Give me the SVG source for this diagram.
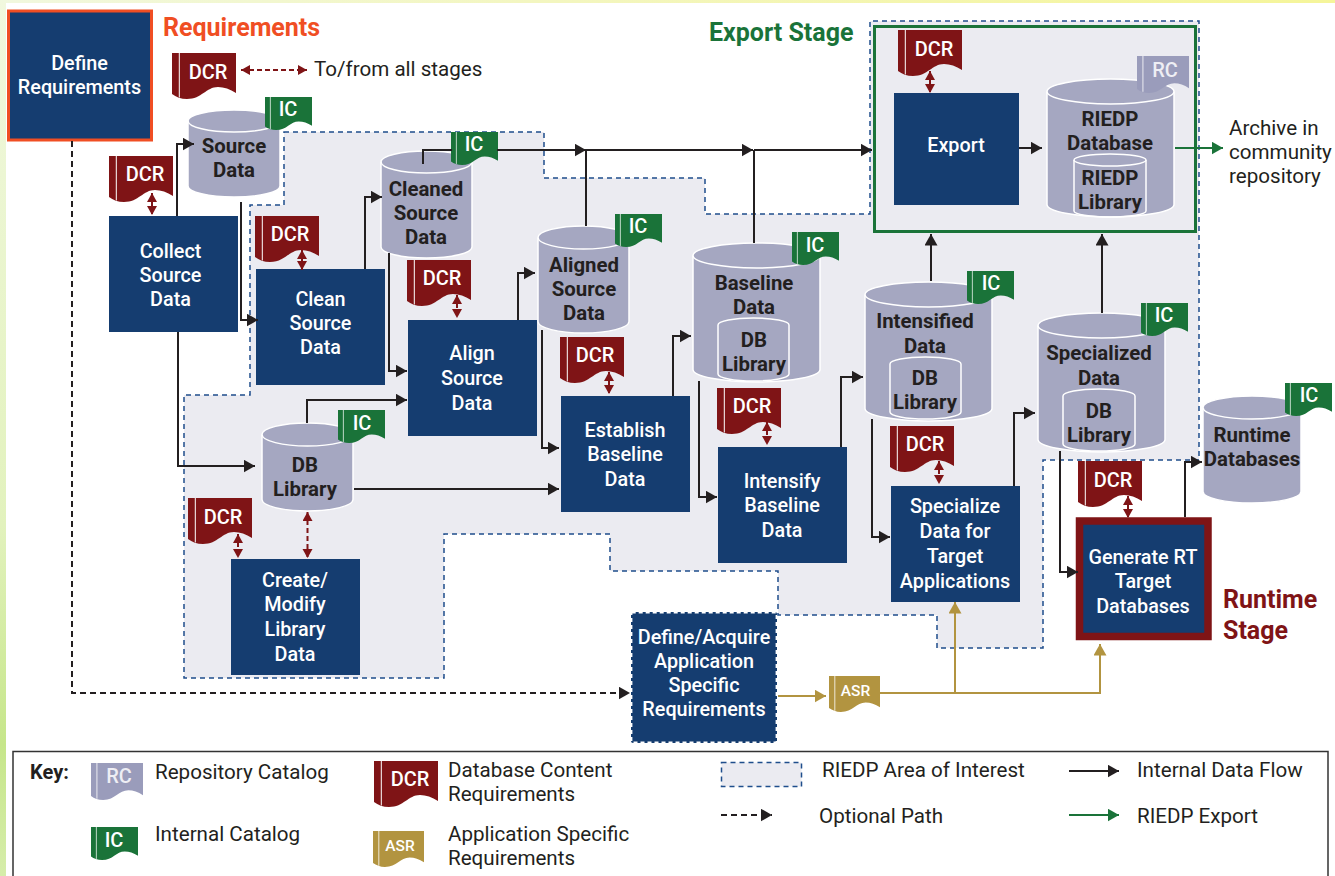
<svg xmlns="http://www.w3.org/2000/svg" width="1335" height="876" viewBox="0 0 1335 876">
<style>
text{font-family:Roboto,"Liberation Sans",sans-serif;fill:#231f20}
.w{fill:#fff;font-size:19.8px;font-weight:500;text-anchor:middle}
.d{font-size:20.4px;font-weight:700;text-anchor:middle}
.l{font-size:20.6px;font-weight:400}
.h{font-size:25px;font-weight:700}
.box{fill:#153d70}
.cyl{fill:#a5a7c1;stroke:#fff;stroke-width:1.5}
.rim{fill:none;stroke:#fff;stroke-width:1.5}
.dcr{fill:#7f1416}.ic{fill:#1a7339}.rc{fill:#9a9cbb}.asr{fill:#b29440}
.tt{fill:#fff;font-size:20px;font-weight:500;text-anchor:middle}
.rt{fill:#eeeef4}
.at{fill:#fff;font-size:15.5px;font-weight:500;text-anchor:middle}
.k{fill:none;stroke:#231f20;stroke-width:2}
.o{fill:none;stroke:#231f20;stroke-width:2;stroke-dasharray:6 4}
.g{fill:none;stroke:#1a7339;stroke-width:2}
.a{fill:none;stroke:#b29440;stroke-width:2}
.r{fill:none;stroke:#7f1416;stroke-width:2;stroke-dasharray:5 3}
.area{fill:#ebebf1;stroke:#1f4e8c;stroke-width:1.5;stroke-dasharray:5 4}
</style>
<defs>
<linearGradient id="lg" x1="0" y1="0" x2="0" y2="1"><stop offset="0" stop-color="#f1f8de"/><stop offset=".6" stop-color="#e2f2bd"/><stop offset=".85" stop-color="#c6e68a"/><stop offset="1" stop-color="#d6edaa"/></linearGradient>
<linearGradient id="tg" x1="0" y1="0" x2="1" y2="0"><stop offset="0" stop-color="#f1f8de"/><stop offset=".4" stop-color="#f3f6c0"/><stop offset="1" stop-color="#f5f59a"/></linearGradient>
<symbol id="tag" viewBox="0 0 64 46" preserveAspectRatio="none"><path d="M0,0H64V40C58,36 52,34 46,34C34,34 30,46 15,46C9,46 4,44 0,41Z"/><path d="M7.3,0V44.5" stroke="#fff" stroke-width="1" fill="none"/></symbol>
<marker id="mk" markerUnits="userSpaceOnUse" markerWidth="12" markerHeight="14" refX="11.5" refY="6.5" orient="auto"><path d="M0,0L11.5,6.5L0,13Z" fill="#231f20"/></marker>
<marker id="mg" markerUnits="userSpaceOnUse" markerWidth="12" markerHeight="14" refX="11.5" refY="6.5" orient="auto"><path d="M0,0L11.5,6.5L0,13Z" fill="#1a7339"/></marker>
<marker id="ma" markerUnits="userSpaceOnUse" markerWidth="12" markerHeight="14" refX="11.5" refY="6.5" orient="auto"><path d="M0,0L11.5,6.5L0,13Z" fill="#b29440"/></marker>
<marker id="mr" markerUnits="userSpaceOnUse" markerWidth="10" markerHeight="11" refX="9" refY="5" orient="auto-start-reverse"><path d="M0,0L9,5L0,10Z" fill="#7f1416"/></marker>
</defs>
<rect width="1335" height="876" fill="#fff"/>
<rect width="1335" height="3" fill="url(#tg)"/>
<rect width="6" height="876" fill="url(#lg)"/>

<g id="area"><path class="area" d="M284,132H544V178H705V214H870V21H1199V460H1043V648H937V615H778V571H610V534H444V678H184V395H250V205H284Z"/></g>

<g id="export-stage"><rect x="874.5" y="26.5" width="321" height="205" fill="#ebebf1" stroke="#1a7339" stroke-width="3"/><text class="h" x="709" y="41" style="fill:#1a7339">Export Stage</text></g>
<g id="requirements-label"><text class="h" x="163" y="36" style="fill:#f04e23">Requirements</text></g>
<g id="runtime-label"><text class="h" x="1223" y="608" style="fill:#7f1416">Runtime</text><text class="h" x="1223" y="639" style="fill:#7f1416">Stage</text></g>

<g id="define-req"><rect class="box" x="8.5" y="11" width="143" height="129" stroke="#f04e23" stroke-width="3"/><text class="w" x="79.5" y="70">Define</text><text class="w" x="79.5" y="94">Requirements</text></g>
<g id="collect"><rect class="box" x="109" y="216" width="129" height="116"/><text class="w" x="170.5" y="258">Collect</text><text class="w" x="170.5" y="282">Source</text><text class="w" x="170.5" y="306">Data</text></g>
<g id="clean"><rect class="box" x="256" y="269" width="129" height="116"/><text class="w" x="320.5" y="306">Clean</text><text class="w" x="320.5" y="330">Source</text><text class="w" x="320.5" y="354">Data</text></g>
<g id="align"><rect class="box" x="408" y="320" width="129" height="116"/><text class="w" x="472" y="360">Align</text><text class="w" x="472" y="385">Source</text><text class="w" x="472" y="410">Data</text></g>
<g id="establish"><rect class="box" x="561" y="396" width="129" height="116"/><text class="w" x="625" y="437">Establish</text><text class="w" x="625" y="461">Baseline</text><text class="w" x="625" y="486">Data</text></g>
<g id="intensify"><rect class="box" x="718" y="447" width="129" height="116"/><text class="w" x="782" y="488">Intensify</text><text class="w" x="782" y="512">Baseline</text><text class="w" x="782" y="537">Data</text></g>
<g id="specialize"><rect class="box" x="891" y="486" width="129" height="116"/><text class="w" x="955" y="513">Specialize</text><text class="w" x="955" y="538">Data for</text><text class="w" x="955" y="563">Target</text><text class="w" x="955" y="588">Applications</text></g>
<g id="generate"><rect class="box" x="1079.5" y="521" width="128.5" height="115.5" stroke="#7f1416" stroke-width="7.5"/><text class="w" x="1143" y="564">Generate RT</text><text class="w" x="1143" y="588">Target</text><text class="w" x="1143" y="613">Databases</text></g>
<g id="create"><rect class="box" x="231" y="559" width="129" height="116"/><text class="w" x="295" y="587">Create/</text><text class="w" x="295" y="611">Modify</text><text class="w" x="295" y="636">Library</text><text class="w" x="295" y="661">Data</text></g>
<g id="export"><rect class="box" x="894" y="93" width="125" height="112"/><text class="w" x="956" y="152">Export</text></g>
<g id="define-acquire"><rect class="box" x="631" y="612" width="146" height="131" rx="2"/><rect x="631.7" y="612.7" width="144.6" height="129.6" fill="none" stroke="#fff" stroke-width="1.4" stroke-dasharray="4 3"/><text class="w" x="704" y="644">Define/Acquire</text><text class="w" x="704" y="668">Application</text><text class="w" x="704" y="692">Specific</text><text class="w" x="704" y="716">Requirements</text></g>

<g id="source-data"><path class="cyl" d="M188,121A46,11 0 0 1 280,121V186A46,11 0 0 1 188,186Z"/><path class="rim" d="M188,121A46,11 0 0 0 280,121"/><text class="d" x="234" y="153">Source</text><text class="d" x="234" y="177">Data</text></g>
<g id="cleaned-data"><path class="cyl" d="M381,162A45.5,11 0 0 1 472,162V247A45.5,11 0 0 1 381,247Z"/><path class="rim" d="M381,162A45.5,11 0 0 0 472,162"/><text class="d" x="426" y="196">Cleaned</text><text class="d" x="426" y="220">Source</text><text class="d" x="426" y="244">Data</text></g>
<g id="aligned-data"><path class="cyl" d="M538,237.5A45.5,11.5 0 0 1 629,237.5V321.5A45.5,11.5 0 0 1 538,321.5Z"/><path class="rim" d="M538,237.5A45.5,11.5 0 0 0 629,237.5"/><text class="d" x="584" y="272">Aligned</text><text class="d" x="584" y="296">Source</text><text class="d" x="584" y="320">Data</text></g>
<g id="db-library"><path class="cyl" d="M262,434.5A45.5,11.5 0 0 1 353,434.5V499.5A45.5,11.5 0 0 1 262,499.5Z"/><path class="rim" d="M262,434.5A45.5,11.5 0 0 0 353,434.5"/><text class="d" x="305" y="472">DB</text><text class="d" x="305" y="496">Library</text></g>
<g id="baseline-data"><path class="cyl" d="M693,255.5A63.5,12.5 0 0 1 820,255.5V369.5A63.5,12.5 0 0 1 693,369.5Z"/><path class="rim" d="M693,255.5A63.5,12.5 0 0 0 820,255.5"/><path class="rim" d="M718,325A35.5,7 0 0 1 789,325V374A35.5,7 0 0 1 718,374Z"/><text class="d" x="754" y="290">Baseline</text><text class="d" x="754" y="314">Data</text><text class="d" x="754" y="347">DB</text><text class="d" x="754" y="371">Library</text></g>
<g id="intensified-data"><path class="cyl" d="M865,294.5A63.5,12.5 0 0 1 992,294.5V408.5A63.5,12.5 0 0 1 865,408.5Z"/><path class="rim" d="M865,294.5A63.5,12.5 0 0 0 992,294.5"/><path class="rim" d="M890,364A35.5,7 0 0 1 961,364V412A35.5,7 0 0 1 890,412Z"/><text class="d" x="925" y="328">Intensified</text><text class="d" x="925" y="353">Data</text><text class="d" x="925" y="385">DB</text><text class="d" x="925" y="409">Library</text></g>
<g id="specialized-data"><path class="cyl" d="M1038,325.5A63.5,12.5 0 0 1 1165,325.5V439.5A63.5,12.5 0 0 1 1038,439.5Z"/><path class="rim" d="M1038,325.5A63.5,12.5 0 0 0 1165,325.5"/><path class="rim" d="M1063,396A36,7 0 0 1 1135,396V444A36,7 0 0 1 1063,444Z"/><text class="d" x="1099" y="360">Specialized</text><text class="d" x="1099" y="385">Data</text><text class="d" x="1099" y="418">DB</text><text class="d" x="1099" y="442">Library</text></g>
<g id="runtime-db"><path class="cyl" d="M1203,407.5A49,11.5 0 0 1 1301,407.5V491.5A49,11.5 0 0 1 1203,491.5Z"/><path class="rim" d="M1203,407.5A49,11.5 0 0 0 1301,407.5"/><text class="d" x="1252" y="442">Runtime</text><text class="d" x="1252" y="466">Databases</text></g>
<g id="riedp-db"><path class="cyl" d="M1047,91.5A63.5,12.5 0 0 1 1174,91.5V204.5A63.5,12.5 0 0 1 1047,204.5Z"/><path class="rim" d="M1047,91.5A63.5,12.5 0 0 0 1174,91.5"/><path class="rim" d="M1074,160A36,6 0 0 1 1146,160V211A36,6 0 0 1 1074,211Z"/><path class="rim" d="M1074,160A36,6 0 0 0 1146,160"/><text class="d" x="1110" y="126">RIEDP</text><text class="d" x="1110" y="150">Database</text><text class="d" x="1110" y="185">RIEDP</text><text class="d" x="1110" y="209">Library</text></g>

<g id="tag-dcr-1" class="dcr"><use href="#tag" x="172" y="53" width="64" height="46"/><text class="tt" x="208" y="79">DCR</text></g>
<g id="tag-dcr-2" class="dcr"><use href="#tag" x="109" y="156" width="64" height="46"/><text class="tt" x="145" y="181">DCR</text></g>
<g id="tag-dcr-3" class="dcr"><use href="#tag" x="255" y="216" width="64" height="46"/><text class="tt" x="290" y="241">DCR</text></g>
<g id="tag-dcr-4" class="dcr"><use href="#tag" x="407" y="260" width="64" height="46"/><text class="tt" x="442" y="285">DCR</text></g>
<g id="tag-dcr-5" class="dcr"><use href="#tag" x="560" y="337" width="64" height="46"/><text class="tt" x="595" y="362">DCR</text></g>
<g id="tag-dcr-6" class="dcr"><use href="#tag" x="717" y="388" width="64" height="46"/><text class="tt" x="752" y="413">DCR</text></g>
<g id="tag-dcr-7" class="dcr"><use href="#tag" x="890" y="426" width="64" height="46"/><text class="tt" x="925" y="451">DCR</text></g>
<g id="tag-dcr-8" class="dcr"><use href="#tag" x="1078" y="461" width="64" height="46"/><text class="tt" x="1113" y="487">DCR</text></g>
<g id="tag-dcr-9" class="dcr"><use href="#tag" x="188" y="498" width="64" height="46"/><text class="tt" x="223" y="524">DCR</text></g>
<g id="tag-dcr-10" class="dcr"><use href="#tag" x="898" y="30" width="64" height="46"/><text class="tt" x="934" y="56">DCR</text></g>
<g id="tag-ic-1" class="ic"><use href="#tag" x="265" y="97" width="47" height="33"/><text class="tt" x="288" y="116">IC</text></g>
<g id="tag-ic-2" class="ic"><use href="#tag" x="451" y="132" width="47" height="33"/><text class="tt" x="474" y="151">IC</text></g>
<g id="tag-ic-3" class="ic"><use href="#tag" x="615" y="214" width="47" height="33"/><text class="tt" x="638" y="233">IC</text></g>
<g id="tag-ic-4" class="ic"><use href="#tag" x="792" y="232" width="47" height="33"/><text class="tt" x="815" y="252">IC</text></g>
<g id="tag-ic-5" class="ic"><use href="#tag" x="967" y="271" width="47" height="33"/><text class="tt" x="991" y="290">IC</text></g>
<g id="tag-ic-6" class="ic"><use href="#tag" x="1141" y="303" width="47" height="33"/><text class="tt" x="1164" y="322">IC</text></g>
<g id="tag-ic-7" class="ic"><use href="#tag" x="1285" y="383" width="47" height="33"/><text class="tt" x="1309" y="402">IC</text></g>
<g id="tag-ic-8" class="ic"><use href="#tag" x="338" y="410" width="47" height="33"/><text class="tt" x="362" y="430">IC</text></g>
<g id="tag-rc" class="rc"><use href="#tag" x="1137" y="56" width="52" height="37"/><text class="tt rt" x="1165" y="77">RC</text></g>
<g id="tag-asr" class="asr"><use href="#tag" x="829" y="676" width="51" height="36"/><text class="at" x="855.5" y="696">ASR</text></g>

<g id="connectors">
<path class="k" marker-end="url(#mk)" d="M177,216V144H194"/>
<path class="k" marker-end="url(#mk)" d="M241,202V320H258"/>
<path class="k" marker-end="url(#mk)" d="M178,332V466H255"/>
<path class="k" marker-end="url(#mk)" d="M365,269V197H382"/>
<path class="k" marker-end="url(#mk)" d="M389,253V371H407"/>
<path class="k" marker-end="url(#mk)" d="M307,423V400H407"/>
<path class="k" marker-end="url(#mk)" d="M354,489H559"/>
<path class="k" marker-end="url(#mk)" d="M518,320V273H535"/>
<path class="k" marker-end="url(#mk)" d="M542,330V448H559"/>
<path class="k" marker-end="url(#mk)" d="M673,396V336H691"/>
<path class="k" marker-end="url(#mk)" d="M699,381V497H717"/>
<path class="k" marker-end="url(#mk)" d="M841,447V377H863"/>
<path class="k" marker-end="url(#mk)" d="M872,419V537H890"/>
<path class="k" marker-end="url(#mk)" d="M1014,486V413H1035"/>
<path class="k" marker-end="url(#mk)" d="M1060,451V572H1078"/>
<path class="k" marker-end="url(#mk)" d="M1185,517V462H1202"/>
<path class="k" marker-end="url(#mk)" d="M423,164V150H452M497,150H586"/>
<path class="k" marker-end="url(#mk)" d="M586,150H753"/>
<path class="k" marker-end="url(#mk)" d="M754,150H872"/>
<path class="k" d="M586,226V150"/>
<path class="k" d="M754,243V150"/>
<path class="k" marker-end="url(#mk)" d="M931,281V234"/>
<path class="k" marker-end="url(#mk)" d="M1102,313V234"/>
<path class="k" marker-end="url(#mk)" d="M1019,148H1042"/>
<path class="g" marker-end="url(#mg)" d="M1175,148H1223"/>
<path class="o" marker-end="url(#mk)" d="M72,141V693H630"/>
<path class="a" marker-end="url(#ma)" d="M778,696H826"/>
<path class="a" marker-end="url(#ma)" d="M880,693H1100V644"/>
<path class="a" marker-end="url(#ma)" d="M955,693V602"/>
<path class="r" marker-start="url(#mr)" marker-end="url(#mr)" d="M241,70H307"/>
<path class="r" marker-start="url(#mr)" marker-end="url(#mr)" d="M152,193V215"/>
<path class="r" marker-start="url(#mr)" marker-end="url(#mr)" d="M302,250V270"/>
<path class="r" marker-start="url(#mr)" marker-end="url(#mr)" d="M457,295V318"/>
<path class="r" marker-start="url(#mr)" marker-end="url(#mr)" d="M609,372V394"/>
<path class="r" marker-start="url(#mr)" marker-end="url(#mr)" d="M767,422V445"/>
<path class="r" marker-start="url(#mr)" marker-end="url(#mr)" d="M939,461V484"/>
<path class="r" marker-start="url(#mr)" marker-end="url(#mr)" d="M1128,496V518"/>
<path class="r" marker-start="url(#mr)" marker-end="url(#mr)" d="M238,534V558"/>
<path class="r" marker-start="url(#mr)" marker-end="url(#mr)" d="M307.5,512V558"/>
<path class="r" marker-start="url(#mr)" marker-end="url(#mr)" d="M930,71V93"/>
</g>

<g id="notes"><text class="l" x="314" y="76">To/from all stages</text><text class="l" x="1229" y="135">Archive in</text><text class="l" x="1229" y="159">community</text><text class="l" x="1229" y="183">repository</text></g>

<g id="key">
<path d="M13,876V751.5H1328V876" fill="none" stroke="#333" stroke-width="1.5"/>
<text x="30" y="779" style="font-size:20px;font-weight:700">Key:</text>
<g class="rc"><use href="#tag" x="91" y="763" width="52" height="37"/><text class="tt rt" x="119" y="783">RC</text></g>
<text class="l" x="155" y="779">Repository Catalog</text>
<g class="ic"><use href="#tag" x="91" y="827" width="47" height="33"/><text class="tt" x="114" y="847">IC</text></g>
<text class="l" x="155" y="841">Internal Catalog</text>
<g class="dcr"><use href="#tag" x="374" y="761" width="64" height="46"/><text class="tt" x="410" y="786">DCR</text></g>
<text class="l" x="448" y="777">Database Content</text>
<text class="l" x="448" y="801">Requirements</text>
<g class="asr"><use href="#tag" x="373" y="831" width="51" height="36"/><text class="at" x="400" y="851">ASR</text></g>
<text class="l" x="448" y="841">Application Specific</text>
<text class="l" x="448" y="865">Requirements</text>
<rect class="area" x="721.5" y="762.5" width="80" height="24"/>
<text class="l" x="822" y="777">RIEDP Area of Interest</text>
<path class="o" marker-end="url(#mk)" d="M721,815H772"/>
<text class="l" x="819" y="823">Optional Path</text>
<path class="k" marker-end="url(#mk)" d="M1069,771H1119"/>
<text class="l" x="1137" y="777">Internal Data Flow</text>
<path class="g" marker-end="url(#mg)" d="M1069,815H1119"/>
<text class="l" x="1137" y="823">RIEDP Export</text>
</g>
</svg>
